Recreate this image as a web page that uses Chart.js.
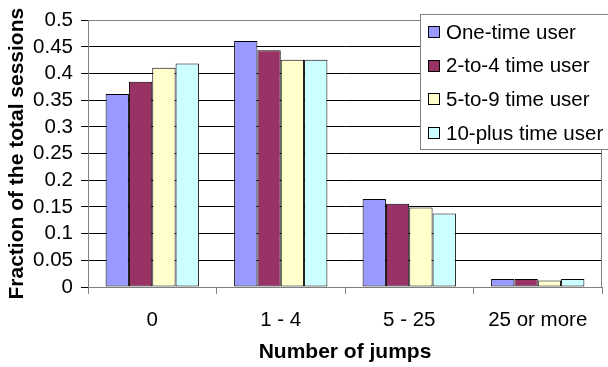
<!DOCTYPE html>
<html>
<head>
<meta charset="utf-8">
<script src="https://cdn.jsdelivr.net/npm/chart.js@4/dist/chart.umd.min.js"></script>
<style>
  html, body { margin: 0; padding: 0; background: #fff; }
  #wrap { width: 608px; height: 367px; }
</style>
</head>
<body>
<div id="wrap"><canvas id="chart" width="608" height="367"></canvas></div>
<script>
// Session share by number of jumps, split by how often the user returns
const categories = ['0', '1 - 4', '5 - 25', '25 or more'];
const seriesNames = ['One-time user', '2-to-4 time user', '5-to-9 time user', '10-plus time user'];
const oneTime    = [0.362, 0.461, 0.165, 0.015];
const twoToFour  = [0.385, 0.444, 0.156, 0.015];
const fiveToNine = [0.411, 0.426, 0.149, 0.012];
const tenPlus    = [0.419, 0.426, 0.138, 0.015];
const yTickValues = [0, 0.05, 0.1, 0.15, 0.2, 0.25, 0.3, 0.35, 0.4, 0.45, 0.5];
const xTitle = 'Number of jumps';
const yTitle = 'Fraction of the total sessions';

const seriesValues = [oneTime, twoToFour, fiveToNine, tenPlus];
const seriesColors = ['#9999FF', '#993366', '#FFFFCC', '#CCFFFF'];

const FONT = 'Liberation Sans, Arial, Helvetica, sans-serif';
Chart.defaults.color = '#000';
Chart.defaults.font.family = FONT;

// Gray frame around the plot area (top and right edges)
const plotFrame = {
  id: 'plotFrame',
  beforeDatasetsDraw(chart) {
    const { ctx, chartArea: a } = chart;
    ctx.save();
    ctx.strokeStyle = '#808080';
    ctx.lineWidth = 1;
    ctx.beginPath();
    ctx.moveTo(Math.round(a.left) + 0.5, Math.round(a.top) + 0.5);
    ctx.lineTo(Math.round(a.right) - 0.5, Math.round(a.top) + 0.5);
    ctx.lineTo(Math.round(a.right) - 0.5, Math.round(a.bottom) + 0.5);
    ctx.stroke();
    ctx.restore();
  }
};

// Boxed legend in the upper right corner
const boxLegend = {
  id: 'boxLegend',
  afterDraw(chart) {
    const { ctx } = chart;
    ctx.save();
    ctx.fillStyle = '#fff';
    ctx.fillRect(420.5, 14.5, 200, 135);
    ctx.strokeStyle = '#808080';
    ctx.lineWidth = 1;
    ctx.strokeRect(420.5, 14.5, 200, 135);
    ctx.font = '20.5px ' + FONT;
    ctx.textBaseline = 'alphabetic';
    ctx.textAlign = 'left';
    chart.data.datasets.forEach((ds, i) => {
      const cy = 31 + i * 33.7;
      ctx.fillStyle = ds.backgroundColor;
      ctx.fillRect(428.5, Math.round(cy - 5) + 0.5, 11, 11);
      ctx.strokeStyle = '#000';
      ctx.strokeRect(428.5, Math.round(cy - 5) + 0.5, 11, 11);
      ctx.fillStyle = '#000';
      ctx.fillText(ds.label, 446, cy + 7.5);
    });
    ctx.restore();
  }
};

new Chart(document.getElementById('chart'), {
  type: 'bar',
  data: {
    labels: categories,
    datasets: seriesValues.map((vals, i) => ({
      label: seriesNames[i],
      data: vals,
      backgroundColor: seriesColors[i],
      borderColor: '#000',
      borderWidth: 1,
      borderSkipped: false,
      categoryPercentage: 0.726,
      barPercentage: 1.0
    }))
  },
  options: {
    responsive: false,
    animation: false,
    devicePixelRatio: 1,
    layout: { padding: { left: 5, top: 16, right: 6, bottom: 2 } },
    plugins: {
      legend: { display: false },
      tooltip: { enabled: false }
    },
    scales: {
      x: {
        grid: {
          offset: true,
          drawOnChartArea: false,
          drawTicks: true,
          tickLength: 7,
          tickColor: '#808080'
        },
        border: { color: '#808080', width: 1 },
        ticks: {
          font: { size: 20.5 },
          padding: 14,
          maxRotation: 0,
          autoSkip: false
        },
        title: {
          display: true,
          text: xTitle,
          font: { size: 21, weight: 'bold' },
          padding: 0
        },
        afterFit(scale) { scale.height = 78; }
      },
      y: {
        min: 0,
        max: 0.5,
        afterBuildTicks(scale) {
          scale.ticks = yTickValues.map(v => ({ value: v }));
        },
        grid: {
          color: '#000',
          lineWidth: 1,
          drawTicks: true,
          tickLength: 7,
          tickColor: '#000'
        },
        border: { color: '#808080', width: 1 },
        ticks: {
          font: { size: 20.5 },
          padding: 8,
          autoSkip: false,
          callback: (v) => String(Number(Number(v).toFixed(2)))
        },
        title: {
          display: true,
          text: yTitle,
          font: { size: 21, weight: 'bold' },
          padding: 0
        },
        afterFit(scale) { scale.width = 83; }
      }
    }
  },
  plugins: [plotFrame, boxLegend]
});
</script>
</body>
</html>
